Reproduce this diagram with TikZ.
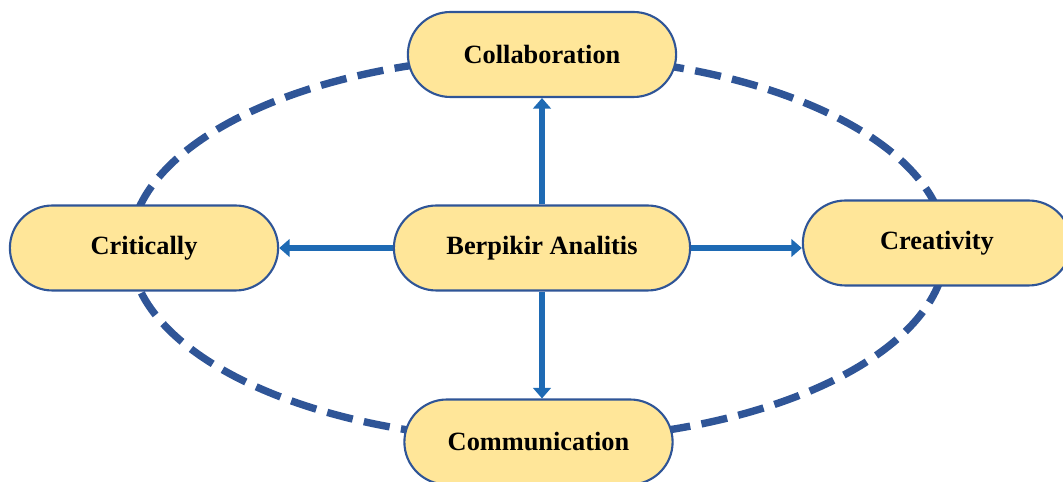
\documentclass[tikz,border=0pt]{standalone}
\usepackage{fontspec}
\setmainfont{Liberation Serif}
\usepackage{tikz}
\usetikzlibrary{positioning,shapes.misc,arrows.meta}
\definecolor{ringblue}{RGB}{47,85,151}
\definecolor{pillfill}{RGB}{255,230,153}
\definecolor{arrblue}{RGB}{30,106,180}

\begin{document}
\begin{tikzpicture}[x=0.02cm,y=-0.02cm,
	pill/.style={rounded rectangle, draw=ringblue, line width=1.2pt, fill=pillfill,
		minimum width=5.6cm, minimum height=1.7cm, font=\fontsize{15}{18}\selectfont\bfseries},
	arr/.style={arrblue, line width=3.6pt, -{Triangle[width=10pt,length=6pt]}}]
	\useasboundingbox (0,0) rectangle (1063,482);
	\draw[ringblue, line width=4.2pt, dash pattern=on 15pt off 6.5pt] (538,248) ellipse [x radius=8.16cm, y radius=3.84cm];
	\node[pill] (col) at (542,54.5) {Collaboration};
	\node[pill] (cri) at (144,248) {Critically};
	\node[pill, minimum width=6.16cm] (ba) at (542,248) {Berpikir Analitis};
	\node[pill] (cre) at (937,243) {Creativity};
	\node[pill] (com) at (538.5,442) {Communication};
	\draw[arr] (ba.north) -- (col.south);
	\draw[arr] (ba.west) -- (cri.east);
	\draw[arr] (ba.east) -- (ba.east -| cre.west);
	\draw[arr] (ba.south) -- (ba.south |- com.north);
\end{tikzpicture}
\end{document}
